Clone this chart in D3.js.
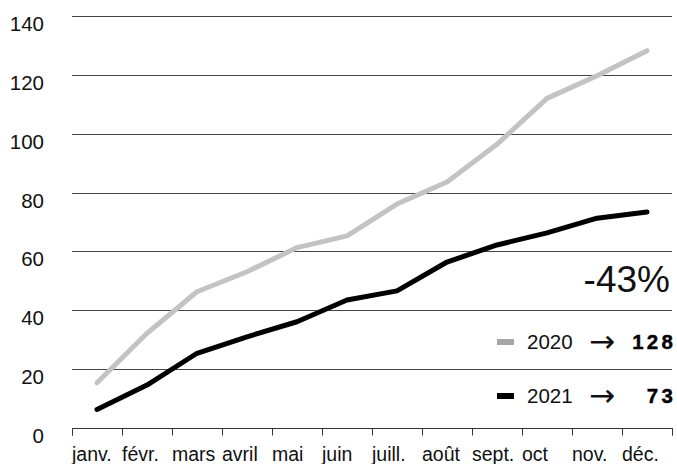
<!DOCTYPE html>
<html>
<head>
<meta charset="utf-8">
<script src="https://cdn.jsdelivr.net/npm/d3@7"></script>
<style>
  html, body { margin: 0; padding: 0; background: #fff; }
  svg { display: block; font-family: "Liberation Sans", Arial, Helvetica, sans-serif; }
</style>
</head>
<body>
<svg id="chart" width="677" height="464"></svg>
<script>
const months = ["janv.", "févr.", "mars", "avril", "mai", "juin", "juill.", "août", "sept.", "oct", "nov.", "déc."];
const values2020 = [15.4, 32.2, 46.3, 53.1, 61.3, 65.3, 76.1, 83.6, 96.4, 112, 119.7, 128.2];
const values2021 = [6.3, 14.6, 25.4, 31, 36.1, 43.5, 46.6, 56.4, 62.2, 66.3, 71.3, 73.4];
const yTicks = [0, 20, 40, 60, 80, 100, 120, 140];
const seriesNames = ["2020", "2021"];
const totals = ["128", "73"];
const changeLabel = "-43%";

const svg = d3.select("#chart");
const x0 = 72, x1 = 672, yTop = 16, yBottom = 428;

const x = d3.scaleBand().domain(months).range([x0, x1]).padding(0);
const y = d3.scaleLinear().domain([0, 140]).range([yBottom, yTop]);

// gridlines
svg.append("g").selectAll("line").data(yTicks.filter(d => d > 0)).join("line")
  .attr("x1", x0).attr("x2", x1)
  .attr("y1", d => Math.round(y(d)) + 0.5).attr("y2", d => Math.round(y(d)) + 0.5)
  .attr("stroke", "#444").attr("stroke-width", 1);

// y labels (hanging below gridline)
svg.append("g").selectAll("text").data(yTicks).join("text")
  .attr("x", 44).attr("y", d => y(d) + 15)
  .attr("text-anchor", "end")
  .attr("font-size", 20.5).attr("fill", "#111")
  .text(d => d);

// x axis
const xAxis = d3.axisBottom(x).tickSize(7).tickFormat("");
const gx = svg.append("g").attr("transform", `translate(0,${yBottom + 0.5})`).call(xAxis);
gx.select(".domain").attr("stroke", "#333").attr("d", `M${x0 + 0.5},7V0H${x1 + 0.5}V7`);
gx.selectAll(".tick").remove();
const tickPos = months.map(m => x(m)).concat([x1]);
gx.selectAll("line.tk").data(tickPos).join("line").attr("class", "tk")
  .attr("x1", d => d + 0.5).attr("x2", d => d + 0.5).attr("y1", 0).attr("y2", 7)
  .attr("stroke", "#333");

svg.append("g").selectAll("text").data(months).join("text")
  .attr("x", d => x(d)).attr("y", 461)
  .attr("font-size", 19.5).attr("fill", "#111")
  .text(d => d);

// lines
const line = d3.line().x((d, i) => x(months[i]) + x.bandwidth() / 2).y(d => y(d));
svg.append("path").datum(values2020).attr("d", line)
  .attr("fill", "none").attr("stroke", "#c3c3c3").attr("stroke-width", 5)
  .attr("stroke-linejoin", "round").attr("stroke-linecap", "round");
svg.append("path").datum(values2021).attr("d", line)
  .attr("fill", "none").attr("stroke", "#000").attr("stroke-width", 5)
  .attr("stroke-linejoin", "round").attr("stroke-linecap", "round");

// change label
svg.append("text").attr("x", 670).attr("y", 292).attr("text-anchor", "end")
  .attr("font-size", 37).attr("fill", "#111").text(changeLabel);

// legend
const legendColors = ["#a6a6a6", "#000"];
const rowBase = [349, 403];
seriesNames.forEach((name, i) => {
  svg.append("rect").attr("x", 497).attr("y", rowBase[i] - 10).attr("width", 17).attr("height", 6)
    .attr("fill", legendColors[i]);
  svg.append("text").attr("x", 527).attr("y", rowBase[i]).attr("font-size", 20.5).attr("fill", "#111").text(name);
  svg.append("text").attr("x", 602).attr("y", rowBase[i] + 3).attr("font-size", 31)
    .attr("text-anchor", "middle")
    .attr("font-family", "DejaVu Sans").attr("fill", "#111").text("→");
  svg.append("text").attr("x", 676).attr("y", rowBase[i]).attr("text-anchor", "end")
    .attr("font-size", 20.5).attr("font-weight", "bold").attr("letter-spacing", 3.2)
    .attr("fill", "#000").attr("stroke", "#000").attr("stroke-width", 0.4).text(totals[i]);
});
</script>
</body>
</html>
